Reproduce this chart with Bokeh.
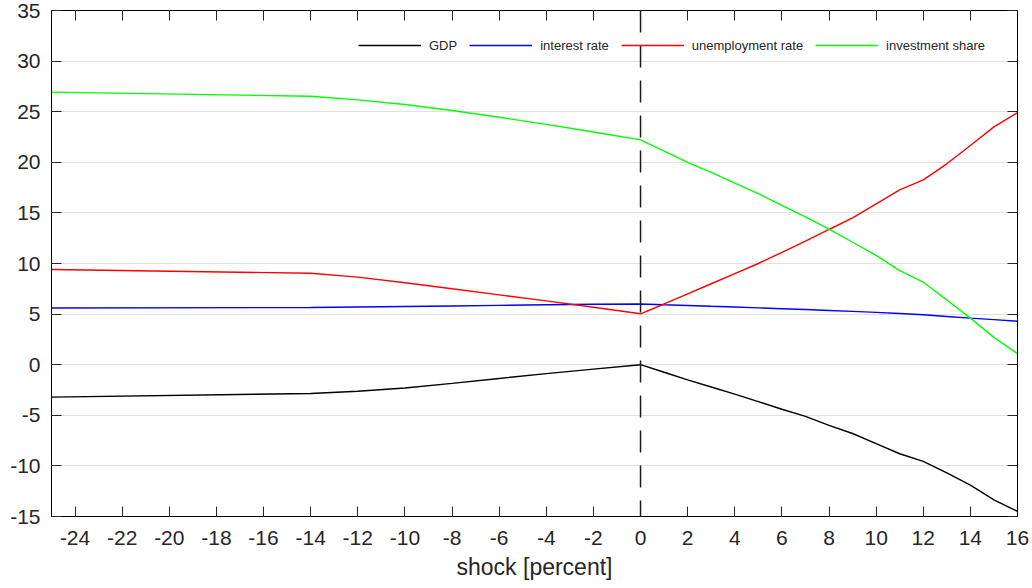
from bokeh.plotting import figure
from bokeh.models import (Range1d, FixedTicker, LinearAxis, Span, Legend, LegendItem,
                          CustomLabelingPolicy)
from bokeh.embed import file_html
from bokeh.resources import INLINE

# ---- data ----
shock = [-25, -14, -12, -10, -8, -6, -4, -2, 0,
         1, 2, 3, 4, 5, 6, 7, 8, 9, 10, 11, 12, 13, 14, 15, 16]
gdp = [-3.2, -2.85, -2.62, -2.3, -1.85, -1.36, -0.88, -0.44, 0.0,
       -0.75, -1.5, -2.2, -2.9, -3.65, -4.4, -5.1, -6.0, -6.8, -7.8, -8.8, -9.55, -10.7, -11.9, -13.35, -14.5]
interest = [5.6, 5.65, 5.7, 5.75, 5.8, 5.86, 5.92, 5.97, 6.0,
            5.92, 5.85, 5.77, 5.7, 5.62, 5.53, 5.45, 5.36, 5.27, 5.17, 5.06, 4.93, 4.77, 4.6, 4.45, 4.3]
unemployment = [9.41, 9.04, 8.65, 8.1, 7.5, 6.9, 6.31, 5.68, 5.03,
                6.0, 7.0, 8.0, 9.0, 10.0, 11.1, 12.2, 13.36, 14.5, 15.9, 17.28, 18.27, 19.85, 21.66, 23.5, 24.9]
investment = [26.93, 26.53, 26.17, 25.71, 25.12, 24.45, 23.75, 23.0, 22.22,
              21.1, 20.0, 19.0, 17.95, 16.9, 15.75, 14.6, 13.4, 12.1, 10.8, 9.3, 8.15, 6.4, 4.6, 2.7, 1.1]

series_names = ["GDP", "interest rate", "unemployment rate", "investment share"]
series_values = [gdp, interest, unemployment, investment]
series_colors = ["#000000", "#0000ff", "#ff0000", "#00ff00"]

x_ticks = list(range(-24, 17, 2))
y_ticks = list(range(-15, 36, 5))
x_label = "shock [percent]"

FONT = "Liberation Sans"
TXT = "#262626"

p = figure(frame_width=966, frame_height=506, output_backend="svg", toolbar_location=None,
           x_range=Range1d(-25, 16), y_range=Range1d(-15, 35),
           min_border_left=51, min_border_right=15, min_border_top=10, min_border_bottom=60)
p.background_fill_color = "white"
p.border_fill_color = "white"
p.outline_line_color = "#000000"
p.outline_line_width = 1

# grid
p.xgrid.visible = False
p.ygrid.ticker = FixedTicker(ticks=y_ticks)
p.ygrid.grid_line_color = "#e0e0e0"
p.ygrid.grid_line_width = 1

# main axes (hyphen-minus labels as in the reference)
for ax, ticks in ((p.xaxis[0], x_ticks), (p.yaxis[0], y_ticks)):
    ax.ticker = FixedTicker(ticks=ticks)
    ax.major_label_overrides = {t: str(t) for t in ticks}
    ax.major_tick_in = 10
    ax.major_tick_out = 0
    ax.minor_tick_line_color = None
    ax.axis_line_color = "#000000"
    ax.major_tick_line_color = "#262626"
    ax.major_label_text_font = FONT
    ax.major_label_text_font_size = "21px"
    ax.major_label_text_color = TXT

p.xaxis[0].major_label_standoff = 14
p.yaxis[0].major_label_standoff = 11
p.xaxis[0].axis_label = x_label
p.xaxis[0].axis_label_text_font = FONT
p.xaxis[0].axis_label_text_font_size = "23px"
p.xaxis[0].axis_label_text_font_style = "normal"
p.xaxis[0].axis_label_text_color = TXT
p.xaxis[0].axis_label_standoff = 6

# mirrored axes (ticks only, labels suppressed by policy)
no_labels = CustomLabelingPolicy(code="""
const out = indices.clone ? indices.clone() : indices;
for (const i of Array.from(indices)) { out.unset(i) }
return out
""")
for loc, ticks in (("above", x_ticks), ("right", y_ticks)):
    ax = LinearAxis(ticker=FixedTicker(ticks=ticks), major_label_policy=no_labels)
    ax.major_tick_in = 10
    ax.major_tick_out = 0
    ax.minor_tick_line_color = None
    ax.axis_line_color = "#000000"
    ax.major_tick_line_color = "#262626"
    ax.major_label_standoff = 0
    ax.major_label_text_font_size = "1px"
    p.add_layout(ax, loc)

# vertical dashed line at zero shock
p.add_layout(Span(location=0, dimension="height", line_color="#1a1a1a",
                  line_width=1.5, line_dash="22 13"))

items = []
for name, vals, col in zip(series_names, series_values, series_colors):
    r = p.line(shock, vals, line_color=col, line_width=1.4)
    items.append(LegendItem(label=name, renderers=[r]))

legend = Legend(items=items, orientation="horizontal", location=(307, 461))
legend.glyph_width = 63
legend.glyph_height = 20
legend.label_standoff = 8
legend.spacing = 12
legend.padding = 0
legend.margin = 0
legend.border_line_alpha = 0
legend.background_fill_alpha = 0
legend.label_text_font = FONT
legend.label_text_font_size = "13px"
legend.label_text_color = TXT
p.add_layout(legend, "center")

open("out.html", "w").write(file_html(p, INLINE))
